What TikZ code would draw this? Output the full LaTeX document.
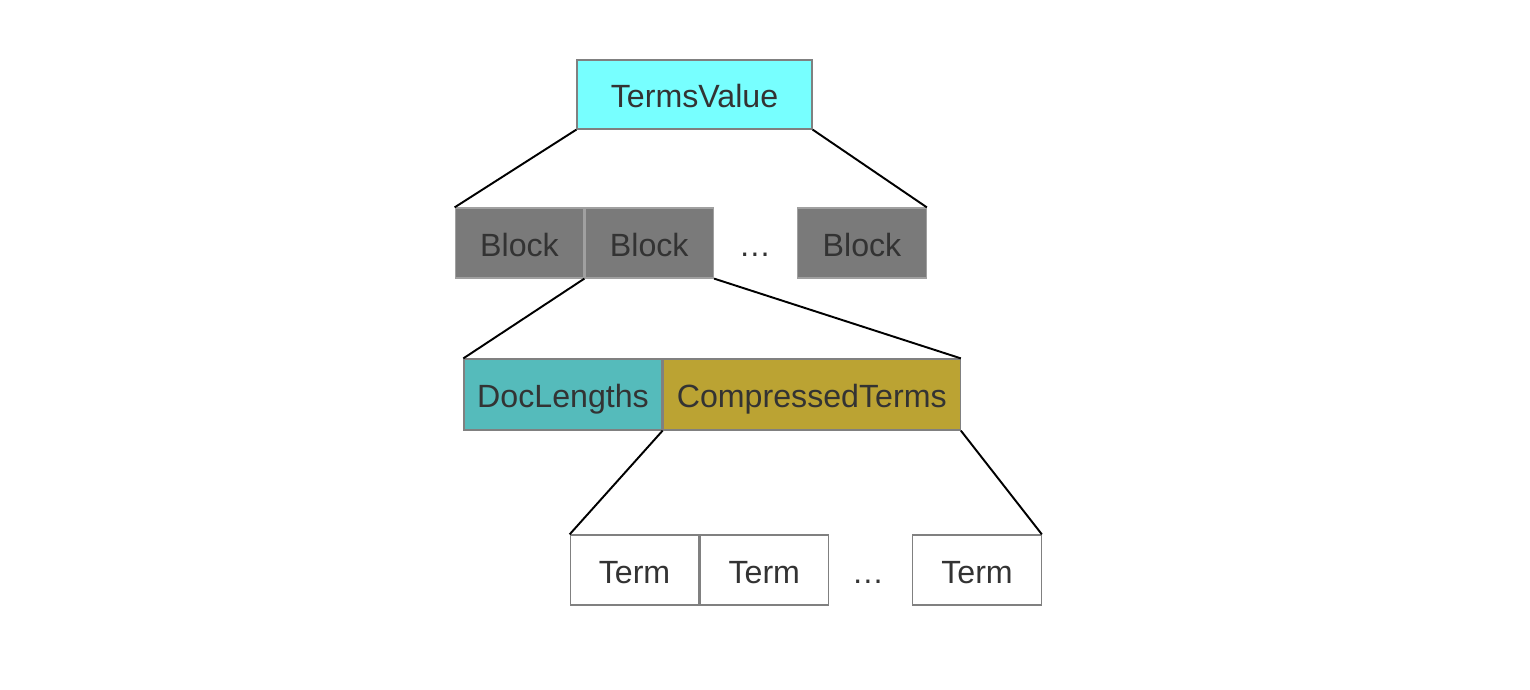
\documentclass[tikz,border=0pt]{standalone}
\usepackage{fontspec}
\setmainfont{Liberation Sans}
\usetikzlibrary{positioning}
\definecolor{txtgray}{HTML}{333333}
\definecolor{boxline}{HTML}{808080}
\definecolor{blockline}{HTML}{A0A0A0}
\definecolor{valcyan}{HTML}{77FFFF}
\definecolor{blockgray}{HTML}{7A7A7A}
\definecolor{doccyan}{HTML}{55BBBB}
\definecolor{termsolive}{HTML}{BBA333}
\tikzset{
	cell/.style={draw=boxline, line width=0.7pt, minimum height=1.4cm, inner sep=0pt, text height=15pt, text depth=0pt, text=txtgray, font=\fontsize{18.3}{21}\selectfont},
	blockcell/.style={cell, draw=blockline, fill=blockgray, minimum width=2.57cm},
	termcell/.style={cell, fill=white, minimum width=2.57cm},
	link/.style={line width=1.1pt}
}
\begin{document}
\begin{tikzpicture}
		\useasboundingbox (0,0) rectangle (30.6,13.8);
		% top value
		\node [cell, fill=valcyan, minimum width=4.7cm, minimum height=1.38cm] (val) at (13.89,11.91) {TermsValue};
		% blocks
		\node [blockcell] (blk1) at (10.39,8.94) {Block};
		\node [blockcell, right=0pt of blk1] (blk2) {Block};
		\node [cell, draw=none] (blkdots) at (15.1,8.94) {…};
		\node [blockcell] (blk3) at (17.24,8.94) {Block};
		% block contents
		\node [cell, fill=doccyan, minimum width=3.96cm, minimum height=1.42cm] (doc) at (11.26,5.91) {DocLengths};
		\node [cell, fill=termsolive, minimum width=5.94cm, minimum height=1.42cm, right=0pt of doc] (comp) {CompressedTerms};
		% terms
		\node [termcell] (term1) at (12.69,2.4) {Term};
		\node [termcell, right=0pt of term1] (term2) {Term};
		\node [cell, draw=none] (termdots) at (17.36,2.4) {…};
		\node [termcell] (term3) at (19.54,2.4) {Term};
		% connectors
		\draw [link] (val.south west) -- (blk1.north west);
		\draw [link] (val.south east) -- (blk3.north east);
		\draw [link] (blk2.south west) -- (doc.north west);
		\draw [link] (blk2.south east) -- (comp.north east);
		\draw [link] (comp.south west) -- (term1.north west);
		\draw [link] (comp.south east) -- (term3.north east);
\end{tikzpicture}
\end{document}
